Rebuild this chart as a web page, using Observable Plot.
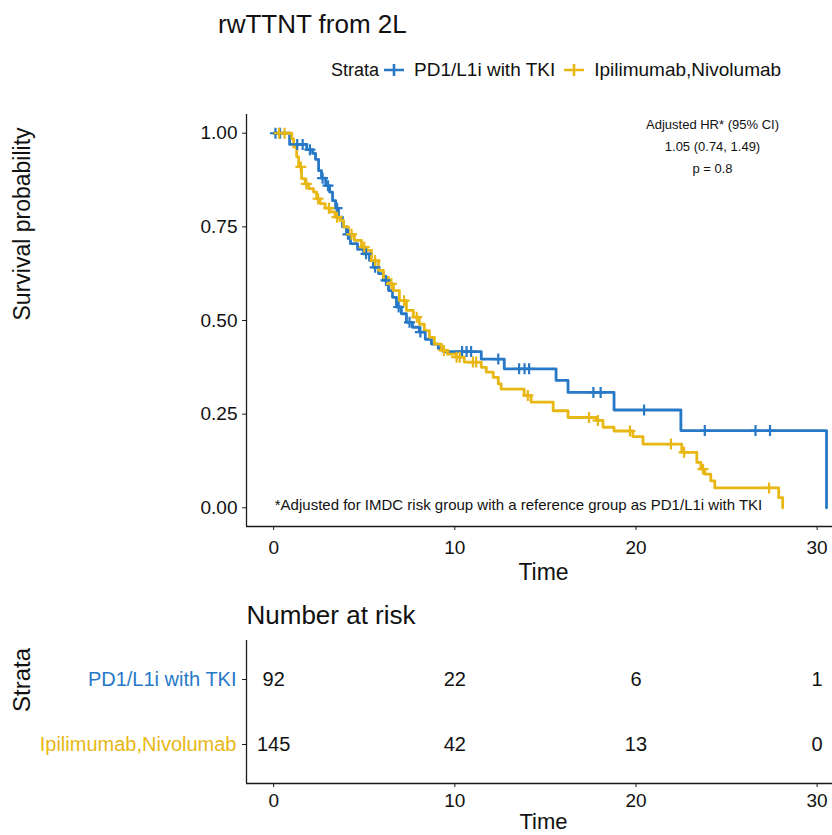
<!DOCTYPE html>
<html>
<head>
<meta charset="utf-8">
<script src="https://cdn.jsdelivr.net/npm/d3@7"></script>
<script src="https://cdn.jsdelivr.net/npm/@observablehq/plot@0.6"></script>
<style>
  html, body { margin: 0; padding: 0; background: #fff; }
  body { font-family: "Liberation Sans", Arial, Helvetica, sans-serif; color: #111; }
  #wrap { position: relative; width: 832px; height: 835px; overflow: hidden; }
  #title { position: absolute; left: 218px; top: 11px; font-size: 26px; line-height: 1; white-space: nowrap; }
  #legend { position: absolute; left: 331px; top: 60px; font-size: 19px; line-height: 1; display: flex; align-items: center; white-space: nowrap; }
  #main { position: absolute; left: 0; top: 95px; }
  #risk { position: absolute; left: 0; top: 595px; }
</style>
</head>
<body>
<div id="wrap">
  <div id="title"></div>
  <div id="legend"></div>
  <div id="main"></div>
  <div id="risk"></div>
</div>
<script>
// ---------- data ----------
const titleText = "rwTTNT from 2L";
const strata = ["PD1/L1i with TKI", "Ipilimumab,Nivolumab"];
const colors = ["#2878C8", "#E8B714"];

// Kaplan-Meier steps: event times and survival after each event
const pd1Time = [0, 0.88, 1.82, 2.15, 2.31, 2.48, 2.64, 2.87, 3.09, 3.25, 3.42, 3.58, 3.80, 4.02, 4.24, 4.63, 4.96, 5.29, 5.51, 5.79, 6.06, 6.34, 6.56, 6.78, 7.05, 7.33, 7.66, 8.04, 8.37, 8.71, 9.09, 9.37, 11.46, 12.73, 15.59, 16.25, 18.79, 22.48, 30.52];
const pd1Surv = [1, 0.97, 0.956, 0.946, 0.93, 0.90, 0.88, 0.86, 0.843, 0.82, 0.80, 0.776, 0.75, 0.73, 0.705, 0.69, 0.678, 0.66, 0.642, 0.625, 0.607, 0.58, 0.562, 0.536, 0.518, 0.495, 0.482, 0.469, 0.45, 0.437, 0.425, 0.417, 0.397, 0.371, 0.34, 0.308, 0.261, 0.206, 0];
const pd1Censor = [0.1, 0.35, 1.3, 1.6, 2.0, 2.7, 3.0, 3.5, 4.1, 5.1, 5.6, 6.2, 6.9, 7.5, 8.1, 10.4, 10.65, 10.9, 12.4, 13.55, 13.85, 14.1, 17.65, 18.05, 20.45, 23.8, 26.6, 27.4];

const ipiTime = [0, 1.0, 1.1, 1.27, 1.38, 1.54, 1.74, 1.93, 2.2, 2.37, 2.56, 2.84, 3.11, 3.39, 3.66, 3.86, 4.13, 4.46, 4.85, 5.12, 5.40, 5.79, 6.06, 6.34, 6.61, 6.94, 7.33, 7.71, 8.04, 8.32, 8.60, 8.87, 9.26, 9.59, 10.08, 10.52, 11.46, 11.74, 12.12, 12.40, 12.56, 13.83, 14.21, 15.43, 16.25, 17.80, 18.18, 18.79, 19.83, 20.39, 22.53, 23.36, 23.58, 23.80, 24.13, 24.35, 27.88, 28.10];
const ipiSurv = [1, 0.985, 0.963, 0.937, 0.91, 0.879, 0.865, 0.852, 0.843, 0.825, 0.812, 0.80, 0.79, 0.776, 0.767, 0.75, 0.73, 0.714, 0.696, 0.687, 0.66, 0.634, 0.615, 0.598, 0.58, 0.553, 0.527, 0.509, 0.49, 0.473, 0.455, 0.437, 0.42, 0.41, 0.402, 0.389, 0.375, 0.362, 0.348, 0.331, 0.317, 0.30, 0.282, 0.259, 0.241, 0.233, 0.215, 0.205, 0.19, 0.17, 0.148, 0.121, 0.103, 0.09, 0.072, 0.053, 0.027, 0];
const ipiCensor = [0.3, 0.6, 1.5, 1.8, 2.45, 3.05, 3.5, 4.3, 5.0, 5.6, 6.5, 7.2, 7.9, 9.4, 10.1, 10.27, 11.0, 11.18, 14.03, 17.41, 17.9, 19.67, 21.93, 22.66, 23.7, 27.35];

const xTicks = [0, 10, 20, 30];
const yTicks = [0, 0.25, 0.5, 0.75, 1];
const xLabel = "Time";
const yLabel = "Survival probability";
const hrLines = ["Adjusted HR* (95% CI)", "1.05 (0.74, 1.49)", "p = 0.8"];
const footnote = "*Adjusted for IMDC risk group with a reference group as PD1/L1i with TKI";

const riskTitle = "Number at risk";
const riskTimes = [0, 10, 20, 30];
const riskPD1 = [92, 22, 6, 1];
const riskIpi = [145, 42, 13, 0];
const riskYLabel = "Strata";
const legendTitle = "Strata";

// ---------- build tables ----------
const series = [
  {name: strata[0], time: pd1Time, surv: pd1Surv, cens: pd1Censor},
  {name: strata[1], time: ipiTime, surv: ipiSurv, cens: ipiCensor}
];
const steps = [];
const censors = [];
for (const s of series) {
  s.time.forEach((t, i) => steps.push({strata: s.name, time: t, surv: s.surv[i]}));
  for (const c of s.cens) {
    const i = d3.bisectRight(s.time, c) - 1;
    censors.push({strata: s.name, time: c, surv: s.surv[Math.max(0, i)]});
  }
}
const riskRows = [];
riskTimes.forEach((t, i) => {
  riskRows.push({strata: strata[0], row: 2, time: t, n: riskPD1[i]});
  riskRows.push({strata: strata[1], row: 1, time: t, n: riskIpi[i]});
});

const plusSymbol = {
  draw(ctx, size) {
    const r = Math.sqrt(size / Math.PI);
    ctx.moveTo(-r, 0); ctx.lineTo(r, 0);
    ctx.moveTo(0, -r); ctx.lineTo(0, r);
  }
};

const FONT = "'Liberation Sans', Arial, Helvetica, sans-serif";
const xDomain = [-1.5, 30.85];
const axisColor = "#1a1a1a";

// ---------- title & legend ----------
document.getElementById("title").textContent = titleText;
const legend = document.getElementById("legend");
{
  const lt = document.createElement("span");
  lt.textContent = legendTitle;
  lt.style.fontSize = "18px";
  lt.style.marginRight = "4px";
  legend.appendChild(lt);
  strata.forEach((s, i) => {
    const ns = "http://www.w3.org/2000/svg";
    const svg = document.createElementNS(ns, "svg");
    svg.setAttribute("width", 22); svg.setAttribute("height", 16);
    svg.style.marginLeft = i === 0 ? "0px" : "8px";
    svg.style.marginRight = "9px";
    const p = document.createElementNS(ns, "path");
    p.setAttribute("d", "M1,8H21M11,2V14");
    p.setAttribute("stroke", colors[i]); p.setAttribute("stroke-width", 2.6); p.setAttribute("fill", "none");
    svg.appendChild(p);
    legend.appendChild(svg);
    const t = document.createElement("span");
    t.textContent = s;
    legend.appendChild(t);
  });
}

// ---------- main KM chart ----------
const main = Plot.plot({
  width: 832, height: 490,
  marginLeft: 246, marginRight: 0, marginTop: 19, marginBottom: 59,
  style: {fontFamily: FONT, color: "#111", background: "transparent", overflow: "visible"},
  x: {domain: xDomain},
  y: {domain: [-0.05, 1.05]},
  color: {domain: strata, range: colors},
  marks: [
    Plot.axisY({ticks: yTicks, tickFormat: d3.format(".2f"), tickSize: 4, tickPadding: 5, fontSize: 19, label: null, stroke: axisColor}),
    Plot.axisX({ticks: xTicks, tickSize: 4, tickPadding: 10, fontSize: 19, label: null, stroke: axisColor}),
    Plot.ruleX([xDomain[0]], {stroke: axisColor, strokeWidth: 1.3}),
    Plot.ruleY([-0.05], {stroke: axisColor, strokeWidth: 1.3}),
    Plot.line(steps, {x: "time", y: "surv", z: "strata", stroke: "strata", curve: "step-after", strokeWidth: 2.8}),
    Plot.dot(censors, {x: "time", y: "surv", stroke: "strata", symbol: plusSymbol, r: 5.5, strokeWidth: 2.2, fill: "none"}),
    Plot.text([hrLines.join("\n")], {text: d => d, frameAnchor: "top-right", dx: -120, dy: -1, textAnchor: "middle", lineAnchor: "top", lineHeight: 1.7, fontSize: 13, fill: "#111"}),
    Plot.text([footnote], {text: d => d, frameAnchor: "bottom", dx: -21, dy: -21, lineAnchor: "middle", fontSize: 15, fill: "#111"}),
    Plot.text([yLabel], {text: d => d, frameAnchor: "left", rotate: -90, dx: -224, fontSize: 23, fill: "#111"}),
    Plot.text([xLabel], {text: d => d, frameAnchor: "bottom", dx: 4, dy: 46, lineAnchor: "middle", fontSize: 23, fill: "#111"})
  ]
});
document.getElementById("main").appendChild(main);

// ---------- risk table ----------
const risk = Plot.plot({
  width: 832, height: 240,
  marginLeft: 246, marginRight: 0, marginTop: 45, marginBottom: 52,
  style: {fontFamily: FONT, color: "#111", background: "transparent", overflow: "visible"},
  x: {domain: xDomain},
  y: {domain: [0.4, 2.6]},
  color: {domain: strata, range: colors},
  marks: [
    Plot.axisY({ticks: [1, 2], tickFormat: () => "", tickSize: 4, label: null, stroke: axisColor}),
    Plot.axisX({ticks: xTicks, tickSize: 4, tickPadding: 6, fontSize: 19, label: null, stroke: axisColor}),
    Plot.ruleX([xDomain[0]], {stroke: axisColor, strokeWidth: 1.3}),
    Plot.ruleY([0.4], {stroke: axisColor, strokeWidth: 1.3}),
    Plot.text(strata, {text: d => d, y: (d, i) => strata.length - i, frameAnchor: "left", dx: -10, textAnchor: "end", fill: d => d, fontSize: 20}),
    Plot.text(riskRows, {x: "time", y: "row", text: "n", fontSize: 20, fill: "#111"}),
    Plot.text([riskTitle], {text: d => d, frameAnchor: "top-left", dy: -25, textAnchor: "start", lineAnchor: "middle", fontSize: 26, fill: "#111"}),
    Plot.text([riskYLabel], {text: d => d, frameAnchor: "left", rotate: -90, dx: -224, fontSize: 24, fill: "#111"}),
    Plot.text([xLabel], {text: d => d, frameAnchor: "bottom", dx: 4, dy: 38, lineAnchor: "middle", fontSize: 22, fill: "#111"})
  ]
});
document.getElementById("risk").appendChild(risk);
</script>
</body>
</html>
